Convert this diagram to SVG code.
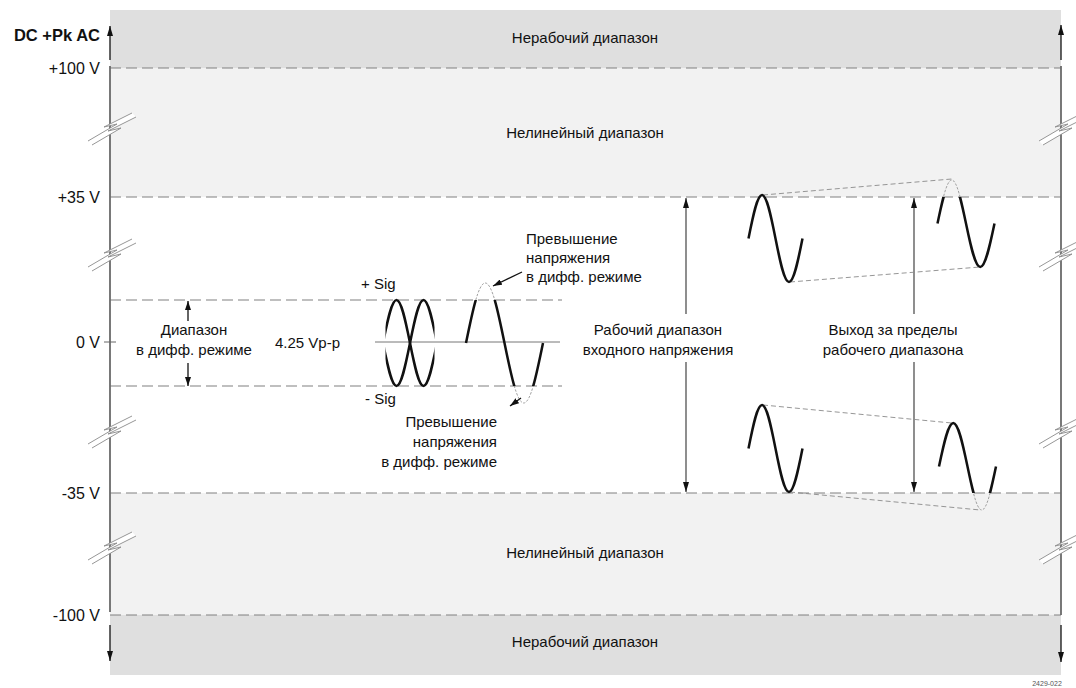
<svg xmlns="http://www.w3.org/2000/svg" width="1076" height="688" viewBox="0 0 1076 688">
<style>
text{font-family:"Liberation Sans",Arial,sans-serif;fill:#111;}
.t{font-size:15px;}
.ax{font-size:16px;}
.dash{stroke:#808080;stroke-width:1.2;stroke-dasharray:11 5;fill:none;}
.axis{stroke:#6a6a6a;stroke-width:1.8;fill:none;}
.blk{stroke:#111;stroke-width:1.3;fill:none;}
.varr{stroke:#444;stroke-width:1.2;fill:none;}
.wave{stroke:#111;stroke-width:2.5;fill:none;stroke-linecap:butt;}
.ghost{stroke:#8a8a8a;stroke-width:0.8;fill:none;stroke-dasharray:2.5 1.5;}
.env{stroke:#8a8a8a;stroke-width:0.9;fill:none;stroke-dasharray:5 3;}
</style>
<defs>
<marker id="ah" markerWidth="10" markerHeight="6" refX="10" refY="3" orient="auto" markerUnits="userSpaceOnUse"><path d="M0,0 L10,3 L0,6 Z" fill="#111"/></marker>
<marker id="ahs" markerWidth="9" markerHeight="6" refX="9" refY="3" orient="auto" markerUnits="userSpaceOnUse"><path d="M0,0 L9,3 L0,6 Z" fill="#111"/></marker>
<g id="brk">
<polygon points="22,-15 -6,-1 7,-4 -22,13 -18,17 11,0 -2,3 26,-11" fill="#fff"/>
<polyline points="22,-15 -6,-1 7,-4 -22,13" fill="none" stroke="#8a8a8a" stroke-width="0.9"/>
<polyline points="26,-11 -2,3 11,0 -18,17" fill="none" stroke="#8a8a8a" stroke-width="0.9"/>
</g>
<clipPath id="cDiff"><rect x="385.5" y="290" width="49" height="110"/></clipPath>
<clipPath id="cOvIn"><rect x="460" y="300" width="90" height="86"/></clipPath>
<clipPath id="cOvOut"><rect x="460" y="270" width="90" height="30"/><rect x="460" y="386" width="90" height="30"/></clipPath>
<clipPath id="cU2In"><rect x="930" y="197" width="70" height="80"/></clipPath>
<clipPath id="cU2Out"><rect x="930" y="170" width="70" height="27"/></clipPath>
<clipPath id="cL4In"><rect x="930" y="410" width="70" height="83"/></clipPath>
<clipPath id="cL4Out"><rect x="930" y="493" width="70" height="27"/></clipPath>
</defs>

<g id="bands">
<rect x="110" y="10" width="951" height="58" fill="#dfdfdf"/>
<rect x="110" y="68" width="951" height="129" fill="#f2f2f2"/>
<rect x="110" y="197" width="951" height="296" fill="#ffffff"/>
<rect x="110" y="493" width="951" height="122" fill="#f2f2f2"/>
<rect x="110" y="615" width="951" height="60" fill="#dfdfdf"/>
</g>

<g id="levels">
<line class="dash" x1="110" y1="68" x2="1061" y2="68"/>
<line class="dash" x1="110" y1="197" x2="1061" y2="197"/>
<line class="dash" x1="110" y1="300" x2="562" y2="300"/>
<line class="dash" x1="110" y1="386" x2="562" y2="386"/>
<line class="dash" x1="110" y1="493" x2="1061" y2="493"/>
<line class="dash" x1="110" y1="615" x2="1061" y2="615"/>
<line x1="375" y1="342" x2="560" y2="342" stroke="#777" stroke-width="1"/>
</g>

<g id="axes">
<line class="axis" x1="110" y1="66" x2="110" y2="612"/>
<line class="axis" x1="1061" y1="66" x2="1061" y2="615"/>
<line class="blk" x1="110" y1="60" x2="110" y2="26" marker-end="url(#ah)"/>
<line class="blk" x1="110" y1="625" x2="110" y2="661" marker-end="url(#ah)"/>
<line class="blk" x1="1061" y1="60" x2="1061" y2="25" marker-end="url(#ah)"/>
<line class="blk" x1="1061" y1="625" x2="1061" y2="662" marker-end="url(#ah)"/>
<line x1="104" y1="342" x2="116" y2="342" stroke="#666" stroke-width="1"/>
<use href="#brk" x="110" y="128"/>
<use href="#brk" x="110" y="254"/>
<use href="#brk" x="110" y="431"/>
<use href="#brk" x="110" y="547"/>
<use href="#brk" x="1061" y="128"/>
<use href="#brk" x="1061" y="254"/>
<use href="#brk" x="1061" y="431"/>
<use href="#brk" x="1061" y="547"/>
</g>

<g id="axis-labels">
<text x="100" y="41" text-anchor="end" font-weight="bold" font-size="16.5">DC +Pk AC</text>
<text class="ax" x="100" y="74" text-anchor="end">+100 V</text>
<text class="ax" x="100" y="203" text-anchor="end">+35 V</text>
<text class="ax" x="100" y="348" text-anchor="end">0 V</text>
<text class="ax" x="100" y="499" text-anchor="end">-35 V</text>
<text class="ax" x="100" y="621" text-anchor="end">-100 V</text>
</g>

<g id="band-labels">
<text class="t" x="585" y="43" text-anchor="middle">Нерабочий диапазон</text>
<text class="t" x="585" y="138" text-anchor="middle">Нелинейный диапазон</text>
<text class="t" x="585" y="558" text-anchor="middle">Нелинейный диапазон</text>
<text class="t" x="585" y="647" text-anchor="middle">Нерабочий диапазон</text>
</g>

<g id="diff-range">
<line class="blk" x1="188" y1="321" x2="188" y2="301" marker-end="url(#ahs)"/>
<line class="blk" x1="188" y1="363" x2="188" y2="386" marker-end="url(#ahs)"/>
<text class="t" x="194" y="335" text-anchor="middle">Диапазон</text>
<text class="t" x="194" y="355" text-anchor="middle">в дифф. режиме</text>
<text class="t" x="275" y="348" font-size="15.5">4.25 Vp-p</text>
<text class="t" x="361" y="289">+ Sig</text>
<text class="t" x="365" y="404">- Sig</text>
</g>

<g id="diff-signals" clip-path="url(#cDiff)">
<path class="wave" d="M383,343 C387.47,320.64 391.6,300 396.5,300 C401.4,300 405.53,320.64 410,343 C414.47,365.36 418.6,386 423.5,386 C428.4,386 432.53,365.36 437,343"/>
<path class="wave" d="M383,343 C387.47,365.36 391.6,386 396.5,386 C401.4,386 405.53,365.36 410,343 C414.47,320.64 418.6,300 423.5,300 C428.4,300 432.53,320.64 437,343"/>
</g>

<g id="overvoltage-signal">
<path class="wave" clip-path="url(#cOvIn)" d="M466,343 C472.37,311.8 478.26,283 485.25,283 C492.24,283 498.13,311.8 504.5,343 C510.87,374.2 516.76,403 523.75,403 C530.74,403 536.63,374.2 543,343"/>
<path class="ghost" clip-path="url(#cOvOut)" d="M466,343 C472.37,311.8 478.26,283 485.25,283 C492.24,283 498.13,311.8 504.5,343 C510.87,374.2 516.76,403 523.75,403 C530.74,403 536.63,374.2 543,343"/>
</g>

<g id="overvoltage-labels">
<line class="blk" x1="522" y1="272" x2="493" y2="286" marker-end="url(#ahs)"/>
<line class="blk" x1="521" y1="398" x2="510" y2="406" marker-end="url(#ahs)"/>
<text class="t" x="526" y="244">Превышение</text>
<text class="t" x="526" y="263">напряжения</text>
<text class="t" x="526" y="282">в дифф. режиме</text>
<text class="t" x="497" y="427" text-anchor="end">Превышение</text>
<text class="t" x="497" y="447" text-anchor="end">напряжения</text>
<text class="t" x="497" y="467" text-anchor="end">в дифф. режиме</text>
</g>

<g id="input-range">
<line class="varr" x1="686" y1="314" x2="686" y2="198" marker-end="url(#ah)"/>
<line class="varr" x1="686" y1="362" x2="686" y2="492" marker-end="url(#ah)"/>
<text class="t" x="658" y="335" text-anchor="middle">Рабочий диапазон</text>
<text class="t" x="658" y="355" text-anchor="middle">входного напряжения</text>
</g>

<g id="out-of-range">
<line class="varr" x1="914" y1="314" x2="914" y2="198" marker-end="url(#ah)"/>
<line class="varr" x1="914" y1="362" x2="914" y2="492" marker-end="url(#ah)"/>
<text class="t" x="893" y="335" text-anchor="middle">Выход за пределы</text>
<text class="t" x="893" y="355" text-anchor="middle">рабочего диапазона</text>
</g>

<g id="common-mode-signals">
<line class="env" x1="763" y1="195" x2="951.75" y2="179"/>
<line class="env" x1="790" y1="282" x2="980.25" y2="267"/>
<line class="env" x1="763" y1="405" x2="951.75" y2="423"/>
<line class="env" x1="790" y1="492" x2="980.25" y2="510"/>
<path class="wave" d="M748.5,238.5 C752.97,215.88 757.1,195 762,195 C766.9,195 771.03,215.88 775.5,238.5 C779.97,261.12 784.1,282 789,282 C793.9,282 798.03,261.12 802.5,238.5"/>
<path class="wave" clip-path="url(#cU2In)" d="M937.5,223.5 C942.22,200.88 946.58,180 951.75,180 C956.92,180 961.28,200.88 966,223.5 C970.72,246.12 975.08,267 980.25,267 C985.42,267 989.78,246.12 994.5,223.5"/>
<path class="ghost" clip-path="url(#cU2Out)" d="M937.5,223.5 C942.22,200.88 946.58,180 951.75,180 C956.92,180 961.28,200.88 966,223.5"/>
<path class="wave" d="M748.5,448.5 C752.97,425.88 757.1,405 762,405 C766.9,405 771.03,425.88 775.5,448.5 C779.97,471.12 784.1,492 789,492 C793.9,492 798.03,471.12 802.5,448.5"/>
<path class="wave" clip-path="url(#cL4In)" d="M939,466.5 C943.72,443.88 948.08,423 953.25,423 C958.42,423 962.78,443.88 967.5,466.5 C972.22,489.12 976.58,510 981.75,510 C986.92,510 991.28,489.12 996,466.5"/>
<path class="ghost" clip-path="url(#cL4Out)" d="M967.5,466.5 C972.22,489.12 976.58,510 981.75,510 C986.92,510 991.28,489.12 996,466.5"/>
</g>

<text x="1047" y="686" text-anchor="middle" font-size="7" style="fill:#555">2429-022</text>
</svg>
